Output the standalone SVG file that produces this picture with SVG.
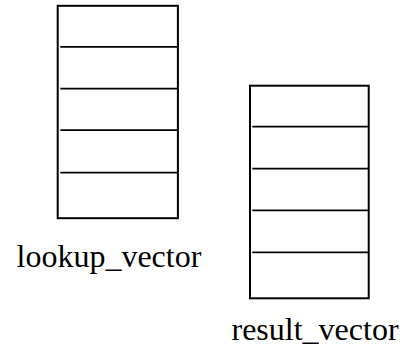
<svg xmlns="http://www.w3.org/2000/svg" width="402" height="350" viewBox="0 0 402 350">
<style>
.box{fill:#fff;stroke:#000;stroke-width:2}
.div{stroke:#000;stroke-width:1.8}
.lbl{font-family:"Liberation Serif","Times New Roman",serif;font-size:32px;fill:#000}
</style>
<rect width="402" height="350" fill="#fff"/>
<g id="lookup_vector">
<rect class="box" x="57.7" y="5.8" width="120.2" height="212.4"/>
<line class="div" x1="60.3" y1="46.9" x2="177.9" y2="46.9"/>
<line class="div" x1="60.3" y1="88.7" x2="177.9" y2="88.7"/>
<line class="div" x1="60.3" y1="130.2" x2="177.9" y2="130.2"/>
<line class="div" x1="60.3" y1="172.7" x2="177.9" y2="172.7"/>
<text class="lbl" x="16.5" y="267">lookup_vector</text>
</g>
<g id="result_vector">
<rect class="box" x="250" y="85.7" width="118.7" height="212.6"/>
<line class="div" x1="252.3" y1="126.7" x2="368.7" y2="126.7"/>
<line class="div" x1="252.3" y1="168.7" x2="368.7" y2="168.7"/>
<line class="div" x1="252.3" y1="210.3" x2="368.7" y2="210.3"/>
<line class="div" x1="252.3" y1="252.3" x2="368.7" y2="252.3"/>
<text class="lbl" x="231.5" y="340">result_vector</text>
</g>
<g id="connectors"/>
</svg>
